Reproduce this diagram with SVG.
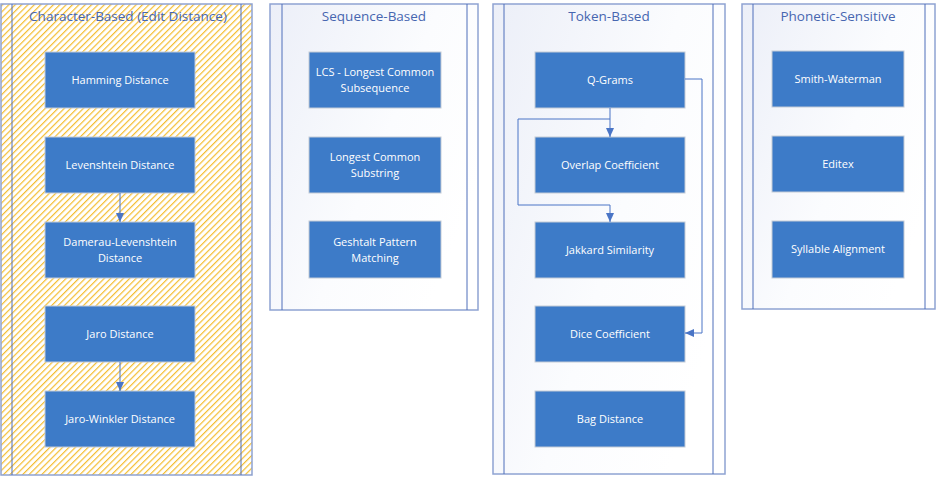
<svg xmlns="http://www.w3.org/2000/svg" width="938" height="477" viewBox="0 0 938 477">
<style>
.frame{stroke:#8ea3d2;stroke-width:1.5}
.inner{stroke:#4f6fba;stroke-width:1}
.title{font-family:"Open Sans","Noto Sans",sans-serif;font-size:13.5px;fill:#4766b0;text-anchor:middle}
.box{fill:#3d7bc8;stroke:#c3cbd6;stroke-width:1}
.lbl{font-family:"Open Sans","Noto Sans",sans-serif;font-size:11px;fill:#ffffff;text-anchor:middle}
.conn{fill:none;stroke:#4a75c6;stroke-width:1}
</style>
<defs>
<linearGradient id="bg" x1="0" y1="0" x2="1" y2="0.6">
<stop offset="0" stop-color="#eceff8"/>
<stop offset="0.6" stop-color="#fbfcfe"/>
<stop offset="1" stop-color="#ffffff"/>
</linearGradient>
<pattern id="hatch" patternUnits="userSpaceOnUse" width="4.5" height="4.5" patternTransform="rotate(45)">
<rect width="4.5" height="4.5" fill="#ffffff"/>
<line x1="0.6" y1="0" x2="0.6" y2="4.5" stroke="#f4bd30" stroke-width="1.2"/>
</pattern>
<marker id="arr" markerWidth="10" markerHeight="10" refX="9" refY="5" orient="auto" markerUnits="userSpaceOnUse">
<path d="M0,1 L9,5 L0,9 Z" fill="#4a75c6"/>
</marker>
</defs>

<g id="col-character">
<rect x="1" y="4" width="251" height="471" fill="url(#hatch)" class="frame"/>
<line x1="12" y1="4" x2="12" y2="475" class="inner"/>
<line x1="241" y1="4" x2="241" y2="475" class="inner"/>
<text x="128" y="21" class="title">Character-Based (Edit Distance)</text>
</g>
<g id="col-sequence">
<rect x="270" y="4" width="208" height="306" fill="url(#bg)" class="frame"/>
<line x1="282" y1="4" x2="282" y2="310" class="inner"/>
<line x1="467" y1="4" x2="467" y2="310" class="inner"/>
<text x="374" y="21" class="title">Sequence-Based</text>
</g>
<g id="col-token">
<rect x="493" y="4" width="232" height="470" fill="url(#bg)" class="frame"/>
<line x1="504" y1="4" x2="504" y2="474" class="inner"/>
<line x1="713" y1="4" x2="713" y2="474" class="inner"/>
<text x="609" y="21" class="title">Token-Based</text>
</g>
<g id="col-phonetic">
<rect x="742" y="4" width="193" height="305" fill="url(#bg)" class="frame"/>
<line x1="753" y1="4" x2="753" y2="309" class="inner"/>
<line x1="925" y1="4" x2="925" y2="309" class="inner"/>
<text x="838" y="21" class="title">Phonetic-Sensitive</text>
</g>

<g id="hamming"><rect x="45" y="52" width="150" height="56" class="box"/><text x="120" y="84" class="lbl">Hamming Distance</text></g>
<g id="levenshtein"><rect x="45" y="137" width="150" height="56" class="box"/><text x="120" y="169" class="lbl">Levenshtein Distance</text></g>
<g id="damerau"><rect x="45" y="222" width="150" height="56" class="box"/><text x="120" y="246" class="lbl">Damerau-Levenshtein</text><text x="120" y="262" class="lbl">Distance</text></g>
<g id="jaro"><rect x="45" y="306" width="150" height="56" class="box"/><text x="120" y="338" class="lbl">Jaro Distance</text></g>
<g id="jaro-winkler"><rect x="45" y="391" width="150" height="56" class="box"/><text x="120" y="423" class="lbl">Jaro-Winkler Distance</text></g>

<g id="lcs"><rect x="309" y="52" width="132" height="56" class="box"/><text x="375" y="76" class="lbl">LCS - Longest Common</text><text x="375" y="92" class="lbl">Subsequence</text></g>
<g id="lcsubstr"><rect x="309" y="137" width="132" height="56" class="box"/><text x="375" y="161" class="lbl">Longest Common</text><text x="375" y="177" class="lbl">Substring</text></g>
<g id="geshtalt"><rect x="309" y="221" width="132" height="57" class="box"/><text x="375" y="246" class="lbl">Geshtalt Pattern</text><text x="375" y="262" class="lbl">Matching</text></g>

<g id="qgrams"><rect x="535" y="52" width="150" height="56" class="box"/><text x="610" y="84" class="lbl">Q-Grams</text></g>
<g id="overlap"><rect x="535" y="137" width="150" height="56" class="box"/><text x="610" y="169" class="lbl">Overlap Coefficient</text></g>
<g id="jakkard"><rect x="535" y="222" width="150" height="56" class="box"/><text x="610" y="254" class="lbl">Jakkard Similarity</text></g>
<g id="dice"><rect x="535" y="306" width="150" height="56" class="box"/><text x="610" y="338" class="lbl">Dice Coefficient</text></g>
<g id="bag"><rect x="535" y="391" width="150" height="56" class="box"/><text x="610" y="423" class="lbl">Bag Distance</text></g>

<g id="smith"><rect x="772" y="51" width="132" height="56" class="box"/><text x="838" y="83" class="lbl">Smith-Waterman</text></g>
<g id="editex"><rect x="772" y="136" width="132" height="56" class="box"/><text x="838" y="168" class="lbl">Editex</text></g>
<g id="syllable"><rect x="772" y="221" width="132" height="57" class="box"/><text x="838" y="253" class="lbl">Syllable Alignment</text></g>

<g id="connectors">
<path d="M120,193 L120,222" class="conn" marker-end="url(#arr)"/>
<path d="M120,362 L120,391" class="conn" marker-end="url(#arr)"/>
<path d="M610,108 L610,137" class="conn" marker-end="url(#arr)"/>
<path d="M610,119 L518,119 L518,205 L610,205 L610,222" class="conn" marker-end="url(#arr)"/>
<path d="M685,79 L702,79 L702,333 L685,333" class="conn" marker-end="url(#arr)"/>
</g>
</svg>
